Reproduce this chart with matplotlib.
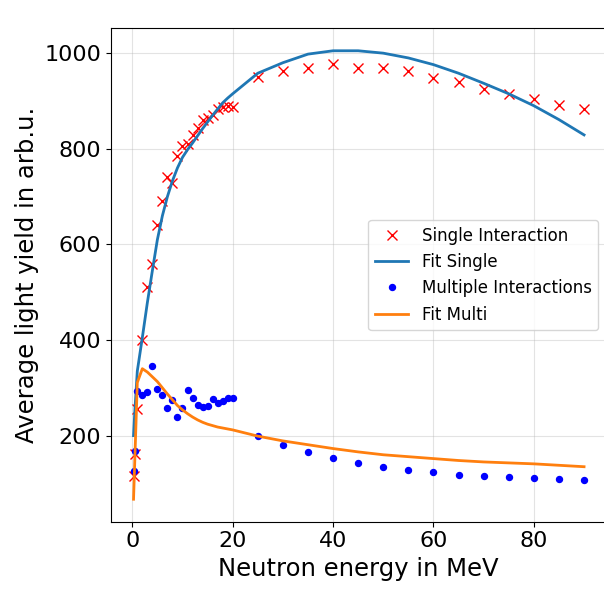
import matplotlib
matplotlib.use('Agg')
import matplotlib.pyplot as plt

# neutron energies in MeV
energy = [0.25, 0.5, 1, 2, 3, 4, 5, 6, 7, 8, 9, 10, 11, 12, 13, 14, 15, 16, 17, 18, 19, 20,
          25, 30, 35, 40, 45, 50, 55, 60, 65, 70, 75, 80, 85, 90]

single = [115, 161, 256, 400, 510, 558, 640, 690, 742, 728, 785, 805, 811, 829, 843, 861, 864,
          871, 883, 888, 890, 888,
          950, 962, 969, 977, 969, 970, 962, 948, 939, 925, 915, 905, 892, 884]

fit_single = [200, 250, 335, 405, 478, 545, 610, 660, 700, 733, 760, 782, 798, 812, 827, 842,
              856, 870, 883, 896, 906, 915,
              958, 980, 998, 1005, 1005, 1000, 990, 976, 958, 937, 915, 890, 861, 829]

multi = [126, 168, 293, 286, 291, 345, 297, 286, 258, 274, 240, 258, 295, 279, 265, 260, 262,
         277, 269, 272, 278, 279,
         199, 180, 166, 154, 143, 134, 129, 123, 118, 116, 113, 111, 109, 108]

fit_multi = [67, 148, 311, 340, 333, 323, 313, 300, 287, 275, 263, 254, 246, 239, 233, 228,
             224, 221, 218, 216, 214, 212,
             199, 189, 181, 173, 166, 160, 156, 152, 148, 145, 143, 141, 138, 135]

fig = plt.figure(figsize=(6.04, 5.90), dpi=100)
ax = fig.add_axes([111 / 604, 68.3 / 590, 495.6 / 604, 493.4 / 590])

ax.plot(energy, single, 'rx', ms=7.5, label='Single Interaction')
ax.plot(energy, fit_single, '-', color='C0', lw=2, label='Fit Single')
ax.plot(energy, multi, 'o', color='b', ms=4.3, label='Multiple Interactions')
ax.plot(energy, fit_multi, '-', color='C1', lw=2, label='Fit Multi')

ax.set_xlim(-4.24, 94.49)
ax.set_ylim(20, 1052)
ax.grid(True, alpha=0.35)
ax.tick_params(labelsize=16)
ax.set_xlabel('Neutron energy in MeV', fontsize=17.5)
ax.set_ylabel('Average light yield in arb.u.', fontsize=17.5)
ax.legend(loc='center right', fontsize=12)

fig.savefig('out.png', dpi=100)
plt.close(fig)
